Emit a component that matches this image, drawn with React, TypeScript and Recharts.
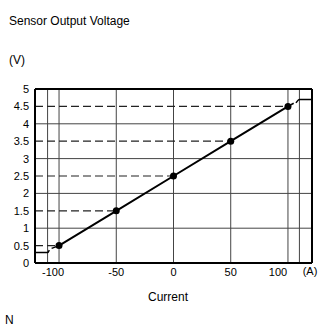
import { ComposedChart, Line, XAxis, YAxis, ReferenceLine } from 'recharts'

// main transfer line (A -> V)
const currentPoints = [-100, -50, 0, 50, 100]
const voltagePoints = [0.5, 1.5, 2.5, 3.5, 4.5]

// clamped ends of the curve
const lowClampCurrent = [-121, -110, -108.5]
const lowClampVoltage = [0.3, 0.3, 0.37]
const lowDashCurrent = [-106.5, -100]
const lowDashVoltage = [0.42, 0.5]
const highDashCurrent = [100, 105]
const highDashVoltage = [4.5, 4.59]
const highClampCurrent = [107, 110, 121]
const highClampVoltage = [4.6, 4.7, 4.7]

const xTicks = [-100, -50, 0, 50, 100]
const yTicks = [0, 0.5, 1, 1.5, 2, 2.5, 3, 3.5, 4, 4.5, 5]
const gridCurrents = [-110, -100, -50, 0, 50, 100, 110]
const gridVoltages = [1, 2, 3, 4]

const X_MIN = -121
const X_MAX = 121

const zip = (xs: number[], ys: number[]) => xs.map((x, i) => ({ current: x, voltage: ys[i] }))

const mainData = zip(currentPoints, voltagePoints)
const lowClamp = zip(lowClampCurrent, lowClampVoltage)
const lowDash = zip(lowDashCurrent, lowDashVoltage)
const highDash = zip(highDashCurrent, highDashVoltage)
const highClamp = zip(highClampCurrent, highClampVoltage)

const FONT = "'Liberation Sans', Arial, sans-serif"
const tickShift: Record<number, number> = { [-100]: -6, 100: -10 }

function CurrentTick(props: any) {
  const { x, y, payload } = props
  return (
    <text
      x={x + (tickShift[payload.value] || 0)}
      y={y}
      dy='0.71em'
      textAnchor='middle'
      fontSize={11}
      fontFamily={FONT}
      fill='#000'
    >
      {payload.value}
    </text>
  )
}

function Dot(props: any) {
  const { cx, cy } = props
  return <circle cx={cx} cy={cy} r={3.5} fill='#000' stroke='none' />
}

const label = (text: string, left: number, top: number, size: number, center = false) => (
  <div
    style={{
      position: 'absolute',
      left,
      top,
      fontSize: size,
      lineHeight: 1,
      fontFamily: FONT,
      color: '#000',
      whiteSpace: 'nowrap',
      transform: center ? 'translateX(-50%)' : undefined,
    }}
  >
    {text}
  </div>
)

export default function App() {
  return (
    <div style={{ position: 'absolute', left: 0, top: 0, width: 330, height: 330, background: '#fff' }}>
      <ComposedChart
        width={330}
        height={330}
        margin={{ top: 89, right: 18, bottom: 47, left: 0 }}
      >
        <XAxis
          type='number'
          dataKey='current'
          domain={[X_MIN, X_MAX]}
          ticks={xTicks}
          tick={<CurrentTick />}
          tickLine={false}
          tickSize={3}
          tickMargin={2}
          height={20}
          axisLine={{ stroke: '#000', strokeWidth: 2 }}
          allowDataOverflow
        />
        <YAxis
          type='number'
          dataKey='voltage'
          domain={[0, 5]}
          ticks={yTicks}
          tickLine={false}
          tickSize={4}
          tickMargin={2}
          width={35}
          interval={0}
          tick={{ fontSize: 11, fontFamily: FONT, fill: '#000' }}
          axisLine={{ stroke: '#000', strokeWidth: 2 }}
        />
        {gridCurrents.map((c) => (
          <ReferenceLine key={`v${c}`} x={c} stroke='#444' strokeWidth={1} />
        ))}
        {gridVoltages.map((v) => (
          <ReferenceLine key={`h${v}`} y={v} stroke='#444' strokeWidth={1} />
        ))}
        {mainData.map((p) => (
          <ReferenceLine
            key={`d${p.voltage}`}
            segment={[
              { x: X_MIN, y: p.voltage },
              { x: p.current, y: p.voltage },
            ]}
            stroke='#222'
            strokeWidth={1.2}
            strokeDasharray='8 4'
          />
        ))}
        <ReferenceLine y={5} stroke='#000' strokeWidth={2} />
        <ReferenceLine x={X_MAX} stroke='#000' strokeWidth={2} />
        <Line
          data={mainData}
          dataKey='voltage'
          type='linear'
          stroke='#000'
          strokeWidth={2}
          dot={<Dot />}
          isAnimationActive={false}
        />
        <Line data={lowClamp} dataKey='voltage' type='monotone' stroke='#000' strokeWidth={1.5} dot={false} isAnimationActive={false} />
        <Line data={lowDash} dataKey='voltage' type='linear' stroke='#000' strokeWidth={1.5} dot={false} isAnimationActive={false} />
        <Line data={highDash} dataKey='voltage' type='linear' stroke='#000' strokeWidth={1.5} dot={false} isAnimationActive={false} />
        <Line data={highClamp} dataKey='voltage' type='monotone' stroke='#000' strokeWidth={1.5} dot={false} isAnimationActive={false} />
      </ComposedChart>
      {label('Sensor Output Voltage', 9, 15, 12)}
      {label('(V)', 9, 54, 12)}
      {label('(A)', 310, 266, 11, true)}
      {label('Current', 168, 291, 12, true)}
      {label('N', 5, 314, 12)}
    </div>
  )
}
